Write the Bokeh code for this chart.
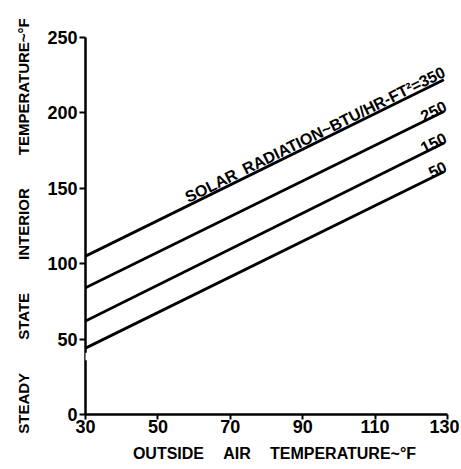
import math
from bokeh.plotting import figure
from bokeh.models import Range1d, FixedTicker, ColumnDataSource, BoxAnnotation
from bokeh.core.properties import value
from bokeh.embed import file_html
from bokeh.resources import INLINE

# ---- data ----
x_temps = [30, 129]
y_350 = [105, 222]
y_250 = [84, 201]
y_150 = [62, 180]
y_50 = [44, 161]
series = [y_350, y_250, y_150, y_50]
series_labels = ["SOLAR\u2002RADIATION~BTU/HR-FT\u00b2=350", "250", "150", "50"]
x_ticks = [30, 50, 70, 90, 110, 130]
y_ticks = [0, 50, 100, 150, 200, 250]
y_axis_break = [36, 41]
x_label = "\u2003OUTSIDE\u2003\u2009AIR\u2003\u2009TEMPERATURE~\u00b0F"
y_label = "STEADY\u2003\u2003\u2009STATE\u2003\u2003\u2009INTERIOR\u2003\u2003\u2009TEMPERATURE~\u00b0F"

FONT = "Liberation Sans"
W, H = 459, 467
L, T = 85, 37
R = W - 447
B = H - 414
x0, x1 = 30, 130
y0, y1 = 0, 250

p = figure(width=W, height=H, x_range=Range1d(x0, x1), y_range=Range1d(y0, y1),
           output_backend="svg", toolbar_location=None,
           min_border_left=L, min_border_right=R, min_border_top=T, min_border_bottom=B)
p.outline_line_color = None
p.grid.visible = False
p.background_fill_color = "white"

for ax in (p.xaxis, p.yaxis):
    ax.axis_line_width = 2.5
    ax.axis_line_color = "black"
    ax.major_tick_line_width = 2
    ax.major_tick_line_color = "black"
    ax.minor_tick_line_color = None
    ax.major_label_text_font = FONT
    ax.major_label_text_font_style = "bold"
    ax.major_label_text_font_size = "18px"
    ax.major_label_text_color = "black"
    ax.axis_label_text_font = FONT
    ax.axis_label_text_font_style = "bold"
    ax.axis_label_text_color = "black"

p.yaxis.axis_label_text_font_size = "15px"
p.xaxis.axis_label_text_font_size = "16px"
p.xaxis.ticker = FixedTicker(ticks=x_ticks)
p.yaxis.ticker = FixedTicker(ticks=y_ticks)
p.xaxis.major_tick_in = 0
p.xaxis.major_tick_out = 5
p.yaxis.major_tick_in = 0
p.yaxis.major_tick_out = 6
p.xaxis.major_label_standoff = 0
p.yaxis.major_label_standoff = 2
p.xaxis.axis_label = x_label
p.yaxis.axis_label = y_label
p.xaxis.axis_label_standoff = 9
p.yaxis.axis_label_standoff = 12

frame_w = W - L - R
frame_h = H - T - B
px_per_x = frame_w / (x1 - x0)
px_per_y = frame_h / (y1 - y0)

# axis break on the y axis
p.add_layout(BoxAnnotation(left=x0 - 1.5, right=x0 + 0.6, bottom=y_axis_break[0], top=y_axis_break[1],
                           fill_color="white", fill_alpha=1.0, line_color=None, level="overlay"))

# pixel angle of the lines
slope_px = ((y_350[1] - y_350[0]) * px_per_y) / ((x_temps[1] - x_temps[0]) * px_per_x)
ang = math.atan(slope_px)

for ys, lab in zip(series, series_labels):
    p.line(x_temps, ys, line_color="black", line_width=2.8)
    src = ColumnDataSource(dict(x=[x_temps[-1]], y=[ys[-1]], t=[lab]))
    p.text(x="x", y="y", text="t", source=src, angle=ang, text_align="right", text_baseline="bottom",
           text_font=value(FONT), text_font_style="bold", text_font_size="16px", text_color="black",
           x_offset=4, y_offset=-1)

open("out.html", "w").write(file_html(p, INLINE))
